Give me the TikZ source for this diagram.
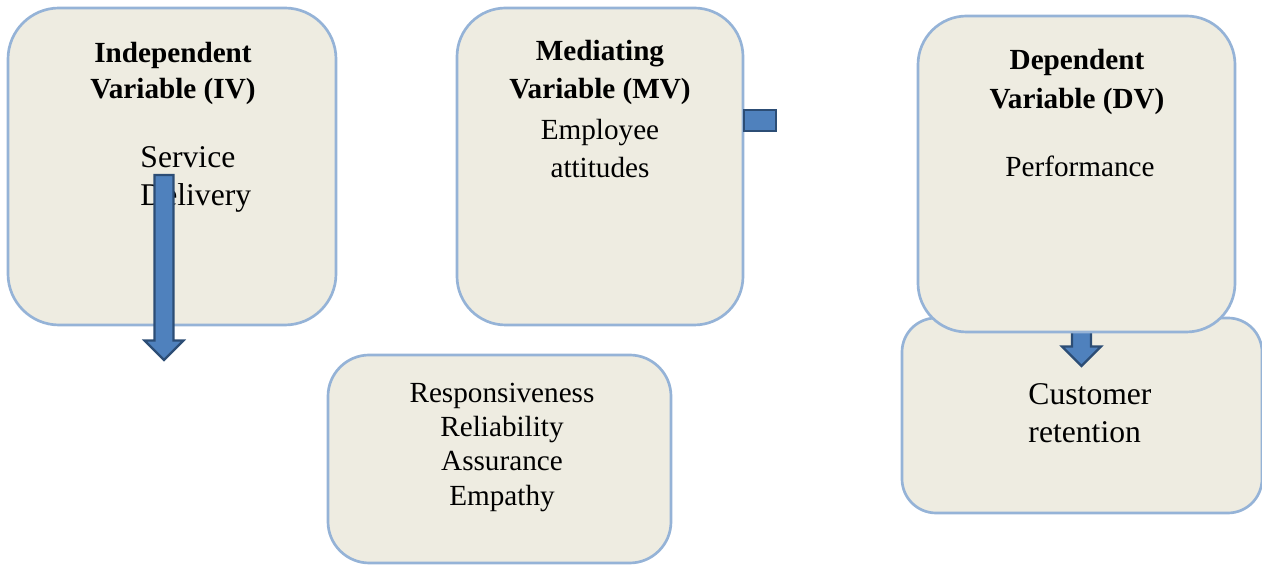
\documentclass[tikz,border=0pt]{standalone}
\usepackage{fontspec}
\setmainfont{Liberation Serif}
\usetikzlibrary{fit,calc}
\definecolor{boxfill}{RGB}{238,236,225}
\definecolor{boxline}{RGB}{149,179,215}
\definecolor{arrowfill}{RGB}{79,129,189}
\definecolor{arrowline}{RGB}{44,77,117}
\tikzset{
  varbox/.style={draw=boxline, fill=boxfill, line width=1.1pt, inner sep=0pt},
  blockarrow/.style={draw=arrowline, fill=arrowfill, line width=0.9pt},
  titletext/.style={inner sep=0pt, align=center, font=\bfseries\fontsize{12}{14.8}\selectfont},
  bodytext/.style={inner sep=0pt, align=center, font=\fontsize{12}{15.6}\selectfont},
  bigtext/.style={inner sep=0pt, align=left, font=\fontsize{13}{15.6}\selectfont}
}
\newcommand{\blockdown}[2]{%
  \draw[blockarrow] ($(#1)+(-9.5,0)$) -- ($(#2)+(-9.5,-19.5)$) -- ($(#2)+(-19.5,-19.5)$)
    -- (#2) -- ($(#2)+(19.5,-19.5)$) -- ($(#2)+(9.5,-19.5)$) -- ($(#1)+(9.5,0)$) -- cycle;}
\begin{document}
\begin{tikzpicture}[x=0.411pt, y=-0.411pt]
  \useasboundingbox (0,0) rectangle (1262,565);
  \node[varbox, rounded corners=21pt, fit={(8,8) (336,325)}] (ivbox) {};
  \node[varbox, rounded corners=20pt, fit={(457,8) (743,325)}] (mvbox) {};
  \node[varbox, rounded corners=17pt, fit={(328,355) (671,563)}] (qualbox) {};
  \node[varbox, rounded corners=14pt, fit={(902,318) (1262,513)}] (retbox) {};
  \coordinate (dvtail) at (1081.5,320);
  \coordinate (dvtip) at (1081.5,366);
  \blockdown{dvtail}{dvtip}
  \node[varbox, rounded corners=20pt, fit={(918,16) (1235,332)}] (dvbox) {};

  \node[titletext, anchor=north] (ivtitle) at (173,42) {Independent\\Variable (IV)};
  \node[bigtext, anchor=north west] (ivtext) at (140,146) {Service\\Delivery};
  \coordinate (ivtail) at (164,175);
  \coordinate (ivtip) at (164,360);
  \blockdown{ivtail}{ivtip}

  \node[bodytext, anchor=north] (mvtext) at (600,40) {\textbf{Mediating}\\\textbf{Variable (MV)}\\[1pt]Employee\\attitudes};
  \node[blockarrow, inner sep=0pt, fit={(744,110) (776,131)}] (mvstub) {};

  \node[titletext, font=\bfseries\fontsize{12}{16}\selectfont, anchor=north] (dvtitle) at (1077,49) {Dependent\\Variable (DV)};
  \node[bodytext, anchor=north] (dvtext) at (1080,155) {Performance};

  \node[bodytext, font=\fontsize{12}{14}\selectfont, anchor=north] (qualtext) at (502,383) {Responsiveness\\Reliability\\Assurance\\Empathy};
  \node[bigtext, anchor=north west] (rettext) at (1028,383) {Customer\\retention};
\end{tikzpicture}
\end{document}
